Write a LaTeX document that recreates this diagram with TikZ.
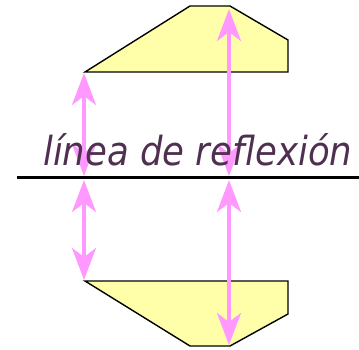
\documentclass[tikz,border=0pt]{standalone}
\usepackage{fontspec}
\newfontfamily\labelfont{DejaVu Sans}
\usetikzlibrary{arrows.meta}
\definecolor{shapefill}{HTML}{FFFFAA}
\definecolor{arrowpink}{HTML}{FF99FF}
\definecolor{textpurple}{HTML}{4F3050}
\tikzset{
  piece/.style={draw=black, line width=1.4pt, fill=shapefill, line join=miter},
  dist/.style={draw=arrowpink, line width=3.5pt, {Stealth[length=32pt,width=24pt,inset=9pt]}-{Stealth[length=32pt,width=24pt,inset=9pt]}},
  axisline/.style={draw=black, line width=3pt},
}
\begin{document}
\begin{tikzpicture}[x=1pt,y=-1pt]
\useasboundingbox (0,0) rectangle (359,350);
% shapes
\draw[piece] (85,72) -- (190,6) -- (230,6) -- (288,40) -- (288,72) -- cycle;
\draw[piece] (85,281) -- (190,346) -- (230,346) -- (288,314) -- (288,281) -- cycle;
% coordinates
\coordinate (tl) at (84,73);
\coordinate (al) at (84,176);
\coordinate (bl) at (84,280);
\coordinate (al2) at (84,180);
\coordinate (tr) at (229,9);
\coordinate (ar) at (229,176);
\coordinate (ar2) at (229,180);
\coordinate (br) at (229,345);
\coordinate (lineL) at (17,178);
\coordinate (lineR) at (359,178);
% arrows
\draw[dist] (tl) -- (al);
\draw[dist] (al2) -- (bl);
\draw[dist] (tr) -- (ar);
\draw[dist] (ar2) -- (br);
% reflection line
\draw[axisline] (lineL) -- (lineR);
% label
\node[anchor=base west, inner sep=0pt, text=textpurple, font=\labelfont\itshape] (lbl) at (43,166) {\resizebox{309pt}{32pt}{línea de reflexión}};
\end{tikzpicture}
\end{document}
